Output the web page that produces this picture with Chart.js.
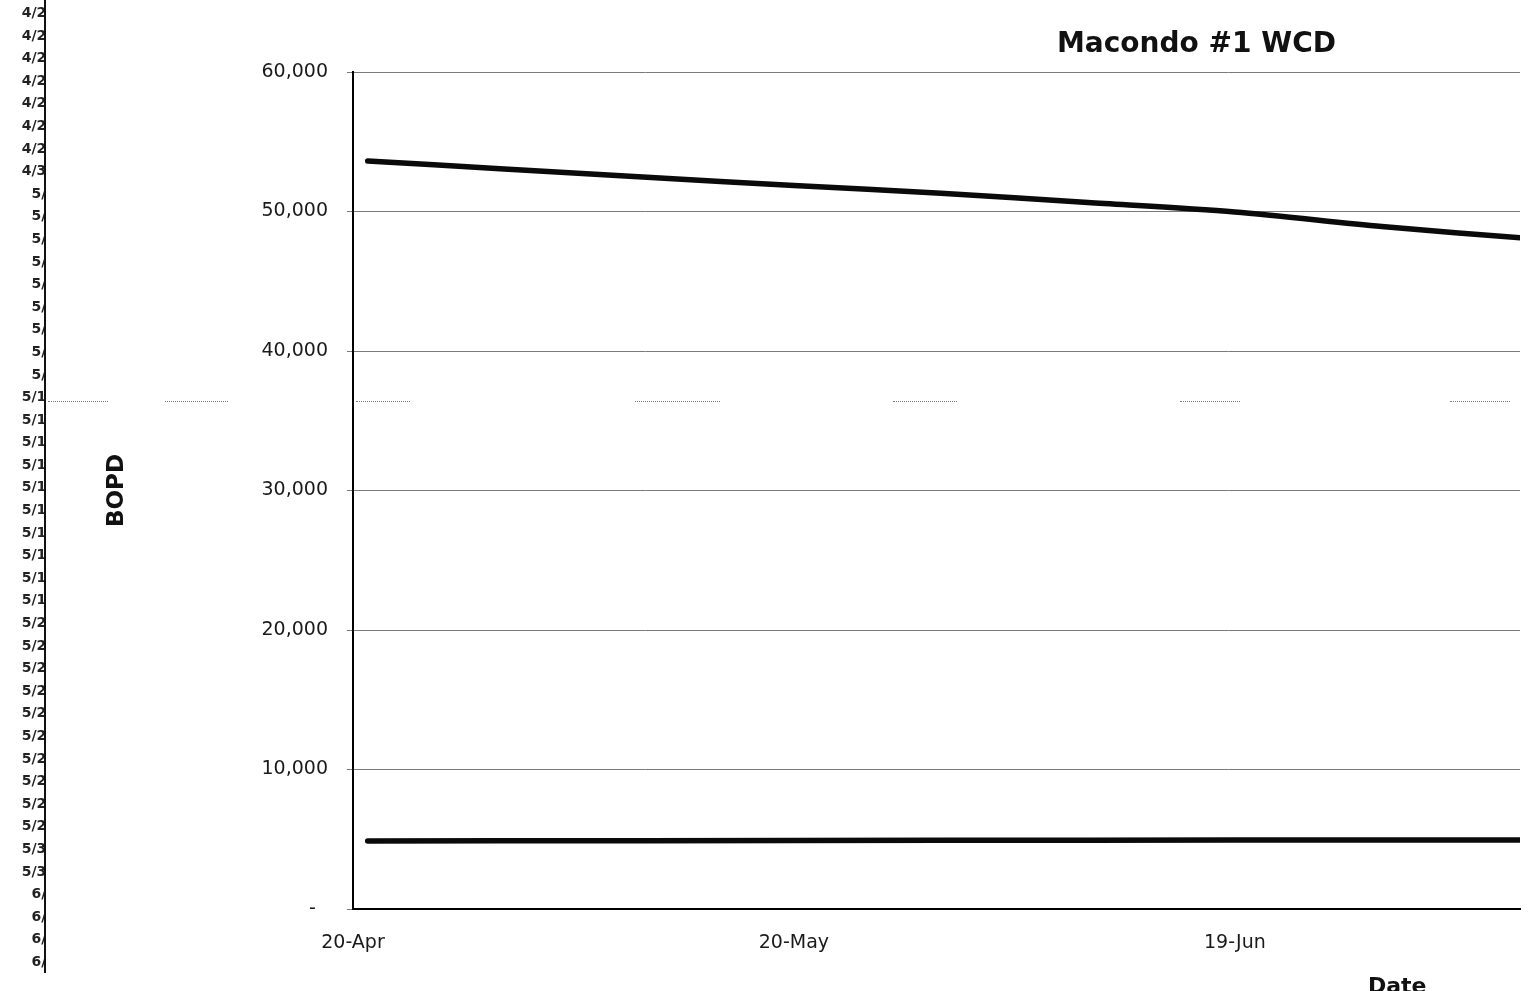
<!DOCTYPE html>
<html>
<head>
<meta charset="utf-8">
<title>Macondo #1 WCD</title>
<script src="https://cdn.jsdelivr.net/npm/chart.js@4.4.0/dist/chart.umd.min.js"></script>
<style>
    html, body { margin: 0; padding: 0; background: #fff; overflow: hidden; }
    #page { position: relative; width: 1529px; height: 991px; overflow: hidden;
            font-family: "DejaVu Sans", sans-serif; color: #111; }
    #wcd-chart { position: absolute; left: 0; top: 0; }
    /* clipped date column from the sheet on the left */
    #side-col { position: absolute; left: 0; top: 1px; width: 44px; overflow: hidden; }
    #side-col div { width: 56px; height: 22.6px; line-height: 22.6px; text-align: right;
                    font-size: 14px; font-weight: bold; white-space: nowrap; color: #222; }
    #side-rule { position: absolute; left: 44px; top: 0; width: 2px; height: 973px; background: #111; }
    .dots { position: absolute; top: 401px; height: 0; border-top: 1px dotted #7a7a7a; }
    #chart-title { position: absolute; left: 1057px; top: 29px; font-size: 28px; line-height: 28px;
                   font-weight: bold; white-space: nowrap; }
    #x-title { position: absolute; left: 1368px; top: 975px; font-size: 22px; line-height: 22px;
               font-weight: bold; white-space: nowrap; }
</style>
</head>
<body>
<div id="page">
    <canvas id="wcd-chart" width="1529" height="991"></canvas>
    <div id="side-col"></div>
    <div id="side-rule"></div>
    <div class="dots" style="left:48px; width:60px;"></div>
    <div class="dots" style="left:165px; width:63px;"></div>
    <div class="dots" style="left:356px; width:54px;"></div>
    <div class="dots" style="left:635px; width:85px;"></div>
    <div class="dots" style="left:893px; width:64px;"></div>
    <div class="dots" style="left:1180px; width:60px;"></div>
    <div class="dots" style="left:1450px; width:60px;"></div>
    <div id="chart-title">Macondo #1 WCD</div>
    <div id="x-title">Date</div>
</div>
<script>
// Days after 20-Apr
const xDays = [1, 10, 20, 30, 40, 50, 60, 70, 80];

// Upper curve (BOPD)
const wcdBopd = [53620, 53070, 52450, 51870, 51300, 50650, 49970, 48920, 48070];

// Lower curve (BOPD)
const lowerBopd = [4880, 4890, 4900, 4910, 4920, 4930, 4940, 4945, 4950];

// Axis ticks
const xTickDays = [0, 30, 60];
const xTickLabels = ['20-Apr', '20-May', '19-Jun'];

// Date cells of the sheet column on the left
const sideDates = [
    '4/23', '4/24', '4/25', '4/26', '4/27', '4/28', '4/29', '4/30',
    '5/1', '5/2', '5/3', '5/4', '5/5', '5/6', '5/7', '5/8', '5/9',
    '5/10', '5/11', '5/12', '5/13', '5/14', '5/15', '5/16', '5/17', '5/18', '5/19',
    '5/20', '5/21', '5/22', '5/23', '5/24', '5/25', '5/26', '5/27', '5/28', '5/29',
    '5/30', '5/31', '6/1', '6/2', '6/3', '6/4'
];

class WcdPage {
    constructor() {
        this.chart = null;
        this.buildSideColumn();
        this.initChart();
    }

    /**
     * Fill the clipped date column
     */
    buildSideColumn() {
        const col = document.getElementById('side-col');
        col.innerHTML = sideDates.map(d => `<div>${d}</div>`).join('');
    }

    /**
     * Build the line chart
     */
    initChart() {
        const ctx = document.getElementById('wcd-chart').getContext('2d');
        const font = '"DejaVu Sans", sans-serif';
        const toPoints = values => xDays.map((d, i) => ({ x: d, y: values[i] }));

        this.chart = new Chart(ctx, {
            type: 'line',
            data: {
                datasets: [
                    {
                        label: 'WCD',
                        data: toPoints(wcdBopd),
                        borderColor: '#0a0a0a',
                        borderWidth: 5.5,
                        borderCapStyle: 'round',
                        borderJoinStyle: 'round',
                        pointRadius: 0,
                        tension: 0.3,
                        fill: false
                    },
                    {
                        label: 'Lower',
                        data: toPoints(lowerBopd),
                        borderColor: '#0a0a0a',
                        borderWidth: 5.5,
                        borderCapStyle: 'round',
                        pointRadius: 0,
                        tension: 0,
                        fill: false
                    }
                ]
            },
            options: {
                responsive: false,
                animation: false,
                devicePixelRatio: 1,
                layout: {
                    padding: { left: 103, right: 9, top: 72, bottom: 0 }
                },
                scales: {
                    x: {
                        type: 'linear',
                        min: 0,
                        max: 79.4,
                        afterBuildTicks: scale => {
                            scale.ticks = xTickDays.map(v => ({ value: v }));
                        },
                        afterFit: scale => { scale.height = 82; },
                        ticks: {
                            callback: v => xTickLabels[xTickDays.indexOf(v)],
                            color: '#1a1a1a',
                            font: { family: font, size: 19 },
                            padding: 23,
                            maxRotation: 0,
                            autoSkip: false
                        },
                        grid: { display: false, drawTicks: false },
                        border: { display: true, color: '#000', width: 2 }
                    },
                    y: {
                        type: 'linear',
                        min: 0,
                        max: 60000,
                        afterFit: scale => { scale.width = 250; },
                        ticks: {
                            stepSize: 10000,
                            callback: v => v === 0 ? '-  ' : v.toLocaleString('en-US'),
                            color: '#1a1a1a',
                            font: { family: font, size: 19 },
                            padding: 19
                        },
                        grid: {
                            color: '#7a7a7a',
                            lineWidth: 1,
                            drawTicks: true,
                            tickLength: 6
                        },
                        border: { display: true, color: '#000', width: 2 },
                        title: {
                            display: true,
                            text: 'BOPD',
                            color: '#111',
                            font: { family: font, size: 23, weight: 'bold' },
                            padding: 0
                        }
                    }
                },
                plugins: {
                    legend: { display: false },
                    tooltip: { enabled: false },
                    title: { display: false }
                }
            }
        });
    }
}

document.addEventListener('DOMContentLoaded', () => {
    window.wcdPage = new WcdPage();
});
</script>
</body>
</html>
